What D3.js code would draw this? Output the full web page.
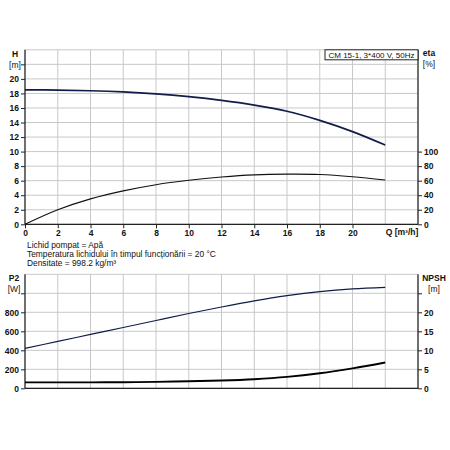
<!DOCTYPE html>
<html><head><meta charset="utf-8">
<script src="https://cdn.jsdelivr.net/npm/d3@7"></script>
<style>body{margin:0;background:#fff}svg{display:block}text{font-family:"Liberation Sans",Arial,sans-serif;fill:#111}</style>
</head><body><svg id="c" width="450" height="450"></svg>
<script>
const flow = [0,2,4,6,8,10,12,14,16,18,20,22];
const head = [18.5,18.46,18.37,18.2,17.93,17.55,17.05,16.4,15.55,14.3,12.75,10.9];
const eta = [0,20,35,46,54.5,60.5,65,68,69,68.5,65.5,61];
const power = [420,494,567,640,714,787,856,920,975,1018,1047,1063];
const npsh = [1.55,1.55,1.56,1.6,1.7,1.85,2.05,2.4,3.0,3.95,5.25,6.8];
const xTicks = [0,2,4,6,8,10,12,14,16,18,20];
const hTicks = [0,2,4,6,8,10,12,14,16,18,20];
const etaTicks = [0,20,40,60,80,100];
const pTicks = [0,200,400,600,800];
const nTicks = [0,5,10,15,20];
const notes = ["Lichid pompat = Apă","Temperatura lichidului în timpul funcționării = 20 °C","Densitate = 998.2 kg/m³"];
const title = "CM 15-1, 3*400 V, 50Hz";

const svg = d3.select("#c");
const L=25, R=418;
const x = d3.scaleLinear().domain([0,24]).range([L,R]);
const yH = d3.scaleLinear().domain([0,24]).range([224.3,49.8]);
const yE = d3.scaleLinear().domain([0,240]).range([224.3,49.8]);
const yP = d3.scaleLinear().domain([0,1200]).range([388.3,274.3]);
const yN = d3.scaleLinear().domain([0,30]).range([388.3,274.3]);
const grid="#c8c8c8", navy="#101c4a";

function panel(y, gridVals, top, bottom){
  const g = svg.append("g");
  d3.range(0,25,2).forEach(v=>g.append("line").attr("x1",x(v)).attr("x2",x(v)).attr("y1",top).attr("y2",bottom).attr("stroke",grid).attr("stroke-width",1));
  gridVals.forEach(v=>g.append("line").attr("x1",L).attr("x2",R).attr("y1",y(v)).attr("y2",y(v)).attr("stroke",grid).attr("stroke-width",1));
}
panel(yH, d3.range(0,25,2), 49.8, 224.3);
panel(yP, d3.range(0,1201,200), 274.3, 388.3);

function axes(yl, lt, yr, rt, top, bottom, showX, hiddenL, hiddenR){
  const al = svg.append("g").attr("transform",`translate(${L},0)`).call(d3.axisLeft(yl).tickValues(lt.concat(hiddenL)).tickSize(4).tickPadding(2).tickFormat(d=>hiddenL.includes(d)?"":d));
  const ar = svg.append("g").attr("transform",`translate(${R},0)`).call(d3.axisRight(yr).tickValues(rt.concat(hiddenR)).tickSize(4).tickPadding(2).tickFormat(d=>hiddenR.includes(d)?"":d));
  const ab = svg.append("g").attr("transform",`translate(0,${bottom})`).call(d3.axisBottom(x).tickValues(showX?xTicks:[]).tickSize(4).tickPadding(2));
  [al,ar,ab].forEach(a=>{a.select(".domain").remove();a.selectAll("line").attr("stroke","#222");a.selectAll("text").attr("font-size","8.5px").attr("font-weight","bold").attr("fill","#111").style("font-family","'Liberation Sans',Arial,sans-serif");});
  svg.append("line").attr("x1",L).attr("x2",L).attr("y1",top).attr("y2",bottom).attr("stroke","#222").attr("stroke-width",1.2);
  svg.append("line").attr("x1",R).attr("x2",R).attr("y1",top).attr("y2",bottom).attr("stroke","#222").attr("stroke-width",1.2);
  svg.append("line").attr("x1",L).attr("x2",R).attr("y1",bottom).attr("y2",bottom).attr("stroke","#222").attr("stroke-width",1.2);
}
axes(yH,hTicks,yE,etaTicks,49.8,224.3,true,[22],[]);
axes(yP,pTicks,yN,nTicks,274.3,388.3,false,[1000],[25]);

function curve(y, vals, color, w){
  svg.append("path").datum(flow.map((q,i)=>[q,vals[i]]))
    .attr("d", d3.line().x(d=>x(d[0])).y(d=>y(d[1])).curve(d3.curveCatmullRom.alpha(0.5)))
    .attr("fill","none").attr("stroke",color).attr("stroke-width",w);
}
curve(yH, head, navy, 1.7);
curve(yE, eta, "#111", 1.1);
curve(yP, power, navy, 1.2);
curve(yN, npsh, "#000", 1.9);

function t(s,xx,yy,anchor,weight){return svg.append("text").attr("x",xx).attr("y",yy).attr("font-size","8.5px").attr("text-anchor",anchor||"start").attr("font-weight",weight||"normal").text(s);}
t("H",15,57,"middle","bold");
t("[m]",15,68,"middle");
t("eta",429,56,"middle","bold");
t("[%]",429,67,"middle");
t("P2",14,281,"middle","bold");
t("[W]",14,292,"middle");
t("NPSH",434,281,"middle","bold");
t("[m]",434,292,"middle");
t("Q [m³/h]",402,234.5,"middle","bold");
notes.forEach((s,i)=>t(s,27,247.5+i*9,"start").attr("font-size","8.4px"));

const bw=93, bx=R-bw;
svg.append("rect").attr("x",bx).attr("y",49.8).attr("width",bw).attr("height",10).attr("fill","#fff").attr("stroke","#222").attr("stroke-width",1);
t(title,bx+bw/2,57.8,"middle").attr("font-size","8px");
</script></body></html>
